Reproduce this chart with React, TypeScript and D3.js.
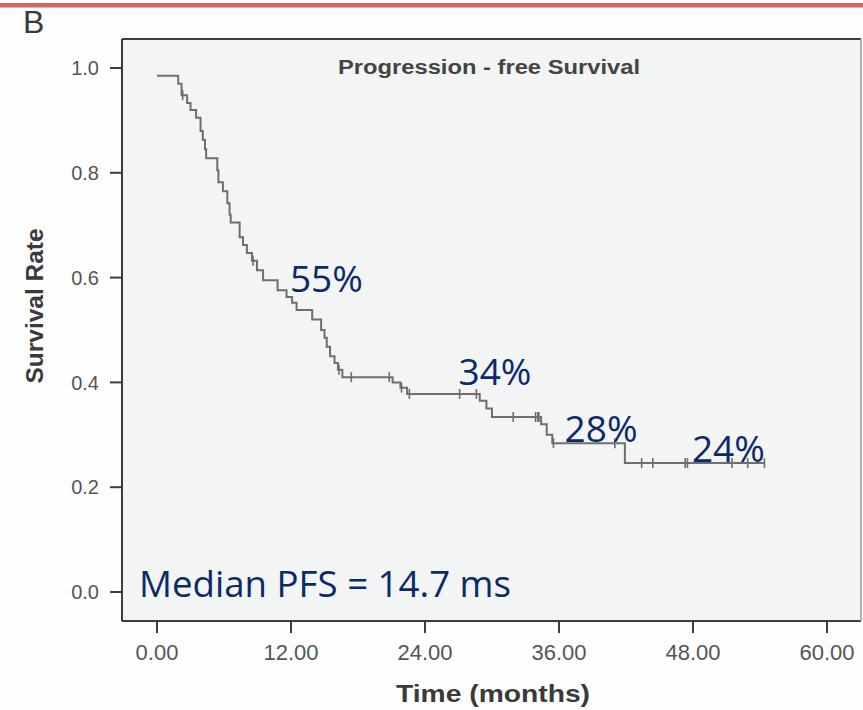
import React from "react";
import * as d3 from "d3";

// ---- data ----
const stepTimes = [0, 1.9, 2.2, 2.7, 3.0, 3.5, 3.9, 4.1, 4.3, 4.4, 5.4, 5.5, 5.9, 6.3, 6.5, 6.6, 7.4, 7.7, 8.05, 8.5, 8.95, 9.5, 10.8, 11.6, 12.1, 12.5, 13.9, 14.7, 15.0, 15.2, 15.5, 15.9, 16.2, 16.6, 21.1, 21.8, 22.4, 28.9, 29.5, 30.0, 34.4, 34.9, 35.4, 41.9];
const stepSurvival = [0.985, 0.97, 0.948, 0.933, 0.92, 0.905, 0.88, 0.863, 0.845, 0.828, 0.805, 0.782, 0.765, 0.742, 0.72, 0.705, 0.677, 0.662, 0.647, 0.632, 0.614, 0.595, 0.576, 0.563, 0.552, 0.538, 0.52, 0.5, 0.485, 0.468, 0.45, 0.437, 0.424, 0.41, 0.40, 0.39, 0.378, 0.365, 0.35, 0.334, 0.32, 0.30, 0.284, 0.246];
const censorTimes = [2.3, 8.6, 16.3, 17.4, 20.8, 21.9, 22.6, 27.1, 28.6, 31.9, 33.9, 34.1, 34.2, 35.5, 41.0, 43.4, 44.4, 47.3, 47.5, 51.5, 52.9, 54.4];
const followUpEnd = 54.4;

const xTicks = [0, 12, 24, 36, 48, 60];
const yTicks = [0, 0.2, 0.4, 0.6, 0.8, 1.0];

const annotationTexts = ["55%", "34%", "28%", "24%"];
const annotationTimes = [11.9, 27.0, 36.5, 47.9];
const annotationRates = [0.573, 0.395, 0.286, 0.248];

const title = "Progression - free Survival";
const xTitle = "Time (months)";
const yTitle = "Survival Rate";
const medianText = "Median PFS = 14.7 ms";
const panelLetter = "B";

export default function App() {
  const W = 863, H = 710;
  const boxL = 122, boxR = 861, boxT = 39, boxB = 621;
  const x = d3.scaleLinear().domain([0, 60]).range([157, 827]);
  const y = d3.scaleLinear().domain([0, 1]).range([592, 68]);

  const pts: [number, number][] = stepTimes.map((t, i) => [t, stepSurvival[i]]);
  pts.push([followUpEnd, stepSurvival[stepSurvival.length - 1]]);
  const line = d3
    .line<[number, number]>()
    .x((d) => x(d[0]))
    .y((d) => y(d[1]))
    .curve(d3.curveStepAfter);

  const survAt = (t: number) => stepSurvival[Math.max(0, d3.bisectRight(stepTimes, t) - 1)];

  const tickFont = "'Liberation Sans', Arial, sans-serif";
  const annFont = "'Open Sans', 'Noto Sans', sans-serif";
  const navy = "#0b2a6b";

  return (
    <svg
      width={W}
      height={H}
      style={{ position: "absolute", left: 0, top: 0, background: "#ffffff" }}
    >
      <rect x={0} y={0} width={W} height={H} fill="#fefefe" />
      <rect x={0} y={3} width={W} height={4.5} fill="#d2675e" />
      <text x={23} y={33} fontFamily={tickFont} fontSize={32} fill="#3a3a3a">
        {panelLetter}
      </text>

      <rect x={boxL} y={boxT} width={boxR - boxL} height={boxB - boxT} fill="#f3f4f4" />
      <line x1={boxL} x2={boxR} y1={boxT} y2={boxT} stroke="#3c3c3c" strokeWidth={2.2} />
      <line x1={boxL} x2={boxR} y1={boxB} y2={boxB} stroke="#3c3c3c" strokeWidth={2.2} />
      <line x1={boxL} x2={boxL} y1={boxT} y2={boxB} stroke="#3c3c3c" strokeWidth={2} />
      <line x1={boxR} x2={boxR} y1={boxT} y2={boxB} stroke="#9a9a9a" strokeWidth={1.5} />

      {yTicks.map((v) => (
        <g key={"y" + v}>
          <line x1={110} x2={boxL} y1={y(v)} y2={y(v)} stroke="#3c3c3c" strokeWidth={2} />
          <text
            x={99}
            y={y(v)}
            dy="0.36em"
            textAnchor="end"
            fontFamily={tickFont}
            fontSize={20}
            fill="#555"
          >
            {v.toFixed(1)}
          </text>
        </g>
      ))}
      {xTicks.map((v) => (
        <g key={"x" + v}>
          <line x1={x(v)} x2={x(v)} y1={boxB} y2={633} stroke="#3c3c3c" strokeWidth={2} />
          <text
            x={x(v)}
            y={660}
            textAnchor="middle"
            fontFamily={tickFont}
            fontSize={22}
            fill="#555"
          >
            {v.toFixed(2)}
          </text>
        </g>
      ))}

      <text
        x={489}
        y={74}
        textAnchor="middle"
        fontFamily={tickFont}
        fontWeight="bold"
        fontSize={20}
        fill="#444"
        textLength={302}
        lengthAdjust="spacingAndGlyphs"
      >
        {title}
      </text>
      <text
        x={493}
        y={702}
        textAnchor="middle"
        fontFamily={tickFont}
        fontWeight="bold"
        fontSize={24}
        fill="#3a3a3a"
        textLength={194}
        lengthAdjust="spacingAndGlyphs"
      >
        {xTitle}
      </text>
      <text
        transform="translate(43,306) rotate(-90)"
        textAnchor="middle"
        fontFamily={tickFont}
        fontWeight="bold"
        fontSize={23}
        fill="#3a3a3a"
        textLength={155}
        lengthAdjust="spacingAndGlyphs"
      >
        {yTitle}
      </text>

      <path d={line(pts) || ""} fill="none" stroke="#6e6e6e" strokeWidth={2} />
      {censorTimes.map((t, i) => (
        <line
          key={"c" + i}
          x1={x(t)}
          x2={x(t)}
          y1={y(survAt(t)) - 5}
          y2={y(survAt(t)) + 5}
          stroke="#6e6e6e"
          strokeWidth={1.6}
        />
      ))}

      {annotationTexts.map((s, i) => (
        <text
          key={s}
          x={x(annotationTimes[i])}
          y={y(annotationRates[i])}
          fontFamily={annFont}
          fontSize={37}
          fill={navy}
        >
          {s}
        </text>
      ))}
      <text x={139} y={597} fontFamily={annFont} fontSize={37} fill={navy} textLength={372} lengthAdjust="spacingAndGlyphs">
        {medianText}
      </text>
    </svg>
  );
}
